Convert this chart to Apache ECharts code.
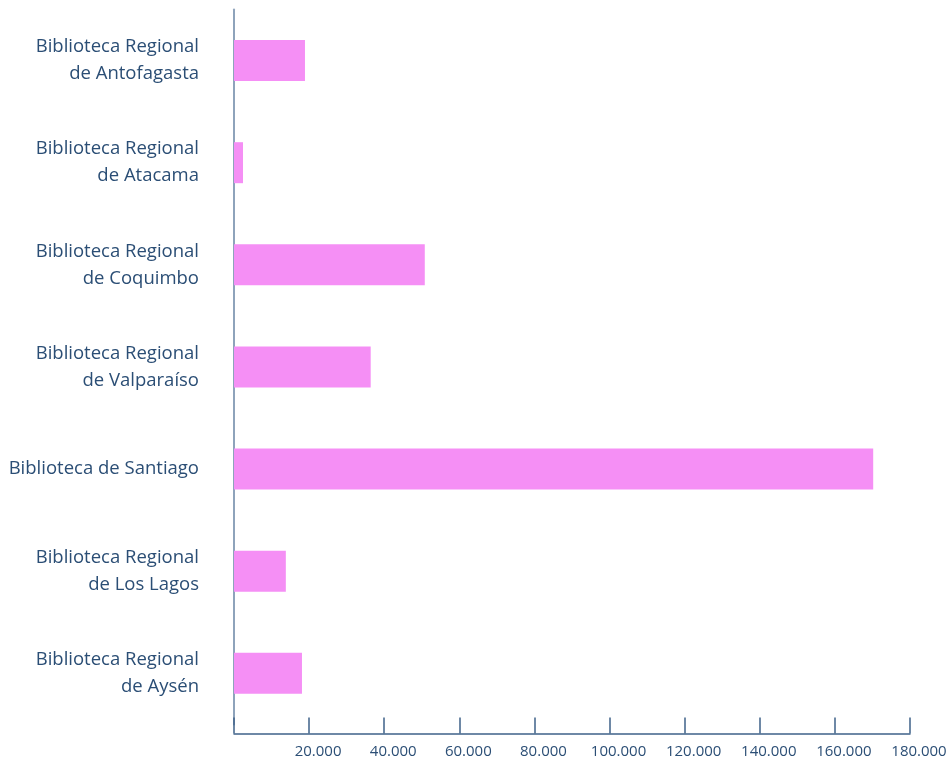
<!DOCTYPE html>
<html lang="es">
<head>
<meta charset="utf-8">
<script src="https://cdn.jsdelivr.net/npm/echarts@6/dist/echarts.min.js"></script>
<style>
  html, body { margin: 0; padding: 0; background: #fff; }
  #chart { width: 946px; height: 764px; }
</style>
</head>
<body>
<div id="chart"></div>
<script type="text/javascript">
// bibliotecas (de arriba hacia abajo)
var bibliotecas = [
  'Biblioteca Regional\nde Antofagasta',
  'Biblioteca Regional\nde Atacama',
  'Biblioteca Regional\nde Coquimbo',
  'Biblioteca Regional\nde Valparaíso',
  'Biblioteca de Santiago',
  'Biblioteca Regional\nde Los Lagos',
  'Biblioteca Regional\nde Aysén'
];
var valores = [18900, 2400, 50800, 36400, 170200, 13800, 18100];
var tickValores = [0, 20000, 40000, 60000, 80000, 100000, 120000, 140000, 160000, 180000];
var tickTextos = ['', '20.000', '40.000', '60.000', '80.000', '100.000', '120.000', '140.000', '160.000', '180.000'];

var textoColor = '#2b4e75';

var chart = echarts.init(document.getElementById('chart'));

var option = {
  backgroundColor: '#ffffff',
  animation: false,
  grid: {
    left: 234,
    right: 36,
    top: 9.5,
    bottom: 39.6,
    containLabel: false,
    outerBoundsMode: 'none'
  },
  xAxis: {
    type: 'value',
    min: 0,
    max: 180000,
    interval: 20000,
    offset: 9,
    splitLine: { show: false },
    axisLine: { show: true, lineStyle: { color: '#3f6289', width: 1.5 } },
    axisTick: { show: true, inside: true, length: 16, lineStyle: { color: '#3f6289', width: 1.5 } },
    axisLabel: {
      margin: 11,
      color: textoColor,
      fontFamily: 'Open Sans',
      fontSize: 15,
      padding: [0, 0, 0, 18],
      hideOverlap: false,
      formatter: function (value) {
        var i = tickValores.indexOf(value);
        return i >= 0 ? tickTextos[i] : '';
      }
    }
  },
  yAxis: {
    type: 'category',
    inverse: true,
    data: bibliotecas,
    axisLine: { show: true, lineStyle: { color: '#8ea3bb', width: 2 } },
    axisTick: { show: false },
    axisLabel: {
      margin: 35,
      color: textoColor,
      fontFamily: 'Open Sans',
      fontSize: 18.5,
      lineHeight: 27
    }
  },
  series: [{
    type: 'bar',
    data: valores,
    barWidth: 41,
    itemStyle: { color: '#f58ff5' }
  }]
};

chart.setOption(option);
</script>
</body>
</html>
